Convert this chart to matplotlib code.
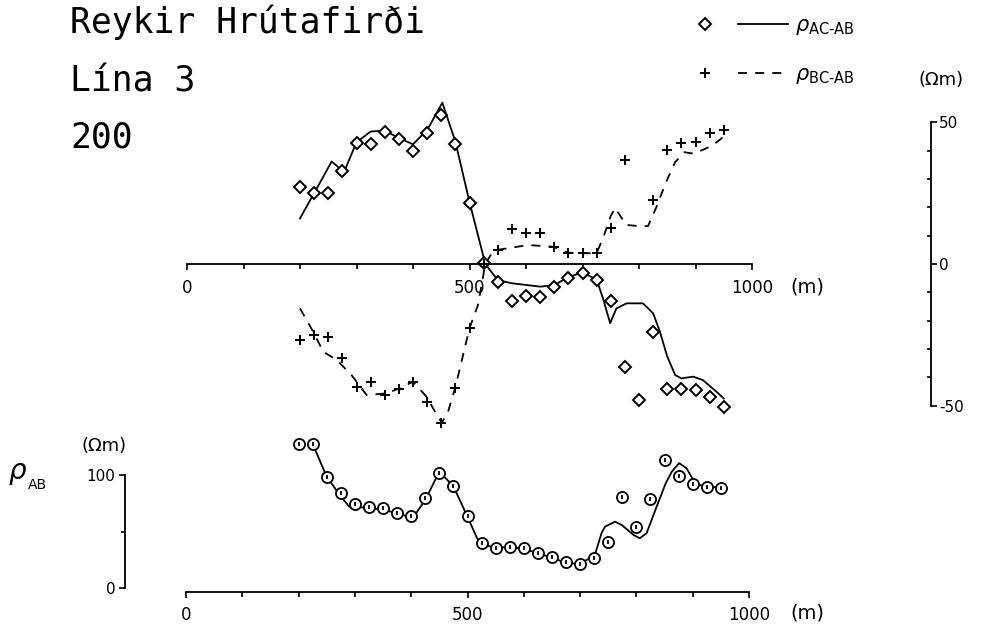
import matplotlib
matplotlib.use('Agg')
import matplotlib.pyplot as plt
import numpy as np
from matplotlib.lines import Line2D
from matplotlib.legend_handler import HandlerTuple
from matplotlib.ticker import FixedLocator, MultipleLocator

plt.rcParams['axes.unicode_minus'] = False
plt.rcParams['font.family'] = 'DejaVu Sans'

# stations along the profile (m)
stations = list(range(200, 951, 25))

# measured rho AC-AB (diamonds), Ohm m
rho_ac_ab = [27.3, 25.0, 25.2, 32.9, 42.6, 42.4, 46.5, 44.1, 39.9, 46.2, 52.7, 42.4, 21.7, 0.5,
             -6.4, -13.0, -11.3, -11.8, -8.0, -5.1, -3.3, -5.7, -13.0, -36.5, -48.0, -23.9,
             -44.3, -44.3, -44.5, -47.1, -50.6]

# measured rho BC-AB (crosses), Ohm m  (no point at 800 m)
rho_bc_ab = [-26.9, -25.1, -25.9, -33.3, -43.6, -41.6, -46.3, -44.3, -41.6, -48.6, -56.3, -43.9,
             -22.7, 0.0, 4.9, 12.2, 10.8, 10.8, 6.1, 3.8, 3.8, 3.8, 12.6, 36.7, np.nan, 22.6,
             40.3, 42.6, 43.2, 46.2, 47.3]

# measured rho AB (circles), Ohm m
rho_ab = [127.4, 127.4, 98.5, 83.8, 74.3, 71.4, 70.5, 66.1, 63.7, 79.4, 101.5, 90.3, 63.7,
          39.6, 35.1, 36.6, 35.1, 30.7, 27.7, 22.7, 21.5, 26.3, 41.0, 80.8, 54.3, 78.8,
          113.3, 99.1, 91.7, 89.7, 88.8]

# model curve for rho AC-AB (solid)
ac_curve_x = [200, 225, 256, 278, 300, 325, 350, 375, 400, 425, 452, 475, 500, 528, 550, 575,
              600, 625, 650, 675, 700, 725, 736, 749, 760, 778, 807, 825, 837, 850, 864, 875,
              896, 913, 937, 950]
ac_curve_y = [16.1, 25.0, 36.2, 32.5, 43.0, 46.8, 47.1, 44.5, 42.3, 47.3, 57.0, 43.2, 21.9, 0.0,
              -5.7, -6.8, -7.4, -8.0, -7.5, -4.6, -3.0, -5.5, -12.0, -20.9, -15.7, -13.9, -13.9,
              -17.4, -23.9, -32.7, -39.2, -40.4, -39.8, -41.0, -45.1, -47.5]

# model curve for rho BC-AB (dashed)
bc_curve_x = [200, 225, 241, 265, 291, 318, 353, 375, 400, 424, 439, 451, 462, 475, 500, 515,
              528, 540, 550, 575, 604, 648, 675, 700, 725, 738, 750, 758, 777, 800, 816, 831,
              848, 864, 880, 896, 915, 931, 950]
bc_curve_y = [-15.7, -24.5, -31.0, -33.9, -39.2, -46.3, -45.7, -44.0, -41.6, -46.9, -52.2, -56.0,
              -52.2, -43.5, -22.7, -14.5, 0.0, 4.0, 5.0, 5.8, 6.7, 6.1, 4.0, 3.8, 3.8, 10.0, 17.0,
              19.8, 13.8, 13.4, 13.4, 20.2, 29.0, 36.0, 39.5, 39.0, 40.5, 42.0, 45.0]

# model curve for rho AB (solid)
ab_curve_x = [225, 250, 275, 290, 300, 325, 350, 375, 403, 425, 450, 475, 500, 517, 528, 550,
              575, 600, 625, 650, 675, 700, 726, 738, 744, 762, 774, 795, 806, 818, 836, 852,
              863, 876, 889, 901, 913, 931, 951]
ab_curve_y = [127.4, 98.5, 81.0, 72.0, 72.0, 70.5, 69.5, 66.0, 62.0, 78.0, 103.0, 90.0, 63.0,
              44.0, 38.0, 36.0, 36.0, 35.0, 30.5, 27.0, 22.0, 21.5, 29.0, 48.4, 54.2, 58.7, 55.8,
              46.9, 44.0, 48.4, 72.0, 92.6, 103.0, 110.5, 106.0, 95.6, 91.0, 89.6, 88.8]

W, H = 984, 632
fig = plt.figure(figsize=(W / 100, H / 100), dpi=100)

mk = dict(linestyle='none', color='black', mec='black', clip_on=False)

# ---------------- upper panel: rho AC-AB and rho BC-AB ----------------
ax1 = fig.add_axes([187 / W, 1 - 439.5 / H, 565 / W, 351 / H])
ax1.patch.set_visible(False)
ax1.set_xlim(0, 1000)
ax1.set_ylim(-62, 62)

ax1.plot(ac_curve_x, ac_curve_y, color='black', lw=1.3, clip_on=False)
ax1.plot(bc_curve_x, bc_curve_y, color='black', lw=1.3, dashes=(5, 4.5), clip_on=False)
ax1.plot(stations, rho_ac_ab, marker='D', ms=6.2, mfc='white', mew=1.4, **mk)
ax1.plot(stations, rho_bc_ab, marker='+', ms=7, mew=1.4, **mk)

for s in ['top', 'left']:
    ax1.spines[s].set_visible(False)
ax1.spines['bottom'].set_position(('data', 0))
ax1.spines['bottom'].set_bounds(0, 1000)
ax1.spines['right'].set_position(('axes', (931 - 187) / 565))
ax1.spines['right'].set_bounds(-50, 50)
for s in ['bottom', 'right']:
    ax1.spines[s].set_linewidth(1.3)

ax1.xaxis.set_major_locator(FixedLocator([0, 500, 1000]))
ax1.xaxis.set_minor_locator(MultipleLocator(100))
ax1.tick_params(axis='x', which='major', direction='out', length=4, width=1.2, pad=7, labelsize=12)
ax1.tick_params(axis='x', which='minor', direction='out', length=3.5, width=1.2)

ax1.yaxis.set_ticks_position('right')
ax1.yaxis.set_major_locator(FixedLocator([-50, 0, 50]))
ax1.yaxis.set_minor_locator(FixedLocator([-40, -30, -20, -10, 10, 20, 30, 40]))
ax1.tick_params(axis='y', which='major', direction='out', length=4, width=1.2, pad=2, labelsize=11)
ax1.tick_params(axis='y', which='minor', direction='in', length=3, width=1.2)

fig.text(790 / W, 1 - 287 / H, '(m)', fontsize=14, va='center')
fig.text(941 / W, 1 - 80 / H, '(Ωm)', fontsize=13, va='center', ha='center')

# legend
h1 = (Line2D([], [], marker='D', ms=6.2, mfc='white', mec='black', mew=1.4, linestyle='none'),
      Line2D([], [], color='black', lw=1.3))
h2 = (Line2D([], [], marker='+', ms=7, mec='black', mew=1.4, linestyle='none'),
      Line2D([], [], color='black', lw=1.3, dashes=(5, 4.5)))
fig.legend([h1, h2], [r'$\rho_{\text{AC-AB}}$', r'$\rho_{\text{BC-AB}}$'],
           handler_map={tuple: HandlerTuple(ndivide=None, pad=0.4)},
           loc='upper left', bbox_to_anchor=(680 / W, 1 - 15 / H), frameon=False,
           fontsize=15, numpoints=1, handlelength=5.2, handletextpad=0.3,
           labelspacing=1.3, borderpad=0, borderaxespad=0)

# ---------------- lower panel: rho AB ----------------
ax2 = fig.add_axes([186 / W, 1 - 599.3 / H, 563 / W, 163.85 / H])
ax2.patch.set_visible(False)
ax2.set_xlim(0, 1000)
ax2.set_ylim(-10, 135)

ax2.plot(ab_curve_x, ab_curve_y, color='black', lw=1.3, clip_on=False)
ax2.plot(stations, rho_ab, marker='o', ms=8, mfc='white', mew=1.3, **mk)
ax2.plot(stations, rho_ab, marker='|', ms=3.5, mew=1.3, **mk)

for s in ['top', 'right']:
    ax2.spines[s].set_visible(False)
ax2.spines['bottom'].set_position(('data', -3.5))
ax2.spines['bottom'].set_bounds(0, 1000)
ax2.spines['left'].set_position(('axes', (125 - 186) / 563))
ax2.spines['left'].set_bounds(0, 100)
for s in ['bottom', 'left']:
    ax2.spines[s].set_linewidth(1.3)

ax2.xaxis.set_major_locator(FixedLocator([0, 500, 1000]))
ax2.xaxis.set_minor_locator(MultipleLocator(100))
ax2.tick_params(axis='x', which='major', direction='out', length=4, width=1.2, pad=6, labelsize=12)
ax2.tick_params(axis='x', which='minor', direction='out', length=3.5, width=1.2)

ax2.yaxis.set_major_locator(FixedLocator([0, 100]))
ax2.yaxis.set_minor_locator(FixedLocator([50]))
ax2.tick_params(axis='y', which='major', direction='out', length=4, width=1.2, pad=3, labelsize=11)
ax2.tick_params(axis='y', which='minor', direction='out', length=3, width=1.2)

fig.text(790 / W, 1 - 613 / H, '(m)', fontsize=14, va='center')
fig.text(104 / W, 1 - 446 / H, '(Ωm)', fontsize=13, va='center', ha='center')
fig.text(18 / W, 1 - 473 / H, r'$\rho$', fontsize=20, va='center', ha='center')
fig.text(37 / W, 1 - 485 / H, 'AB', fontsize=10, va='center', ha='center')

# titles
mono = 'DejaVu Sans Mono'
fig.text(70 / W, 1 - 33 / H, 'Reykir Hrútafirði', family=mono, fontsize=25, va='baseline')
fig.text(70 / W, 1 - 92 / H, 'Lína 3', family=mono, fontsize=25, va='baseline')
fig.text(70 / W, 1 - 148 / H, '200', family=mono, fontsize=25, va='baseline')

fig.savefig('out.png', dpi=100)
